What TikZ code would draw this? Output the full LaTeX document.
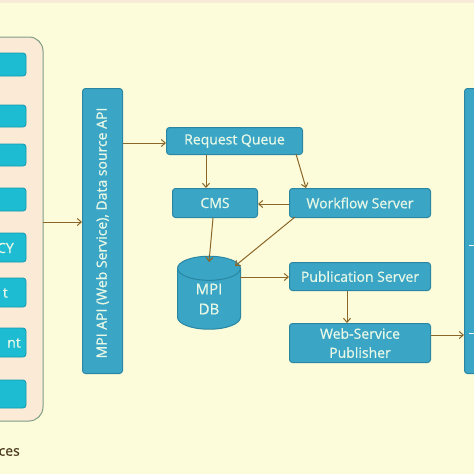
\documentclass[tikz,border=0pt]{standalone}
\usepackage{fontspec}
\setmainfont{Open Sans}
\newfontfamily\semib{Open Sans}[FakeBold=0.6]
\usetikzlibrary{shapes.geometric,arrows.meta}
\definecolor{bg}{HTML}{FDFCDA}
\definecolor{band}{HTML}{F7EAD8}
\definecolor{peach}{HTML}{FBEAD6}
\definecolor{contborder}{HTML}{7E9C86}
\definecolor{boxfill}{HTML}{3BA5C6}
\definecolor{boxline}{HTML}{2A86A2}
\definecolor{cyanfill}{HTML}{1DBCD2}
\definecolor{cyanline}{HTML}{1498AC}
\definecolor{arrowc}{HTML}{8A6628}
\definecolor{boxtext}{HTML}{E8F8E6}
\definecolor{labeltext}{HTML}{4A3A20}
\tikzset{
  txt/.style={font=\semib\fontsize{14}{15}\selectfont},
  proc/.style={draw=boxline, fill=boxfill, line width=1pt, rounded corners=3pt,
    text=boxtext, txt, inner sep=0pt, anchor=north west},
  src/.style={draw=cyanline, fill=cyanfill, line width=0.8pt, rounded corners=3pt},
  conn/.style={draw=arrowc, line width=1pt, -{Straight Barb[length=4pt,width=7pt]}},
}
\begin{document}
\begin{tikzpicture}[x=1pt,y=-1pt]
\useasboundingbox (0,0) rectangle (474,474);
\clip (0,0) rectangle (474,474);
\fill[bg] (0,0) rectangle (474,474);
\fill[band] (0,0) rectangle (474,3);
% left container
\draw[contborder, fill=peach, line width=1pt, rounded corners=14pt] (-30,37) rectangle (43,421);
\coordinate (contE) at (43,222);
% source boxes
\foreach \ya/\yb [count=\i] in {53/76,105/127,144/166,188/211,233/262,278/307,328/357,380/408}{
  \draw[src] (-20,\ya) rectangle (26,\yb);
}
\node[anchor=east, text=boxtext, txt, inner sep=0pt] (s5) at (14,248) {CY};
\node[anchor=east, text=boxtext, txt, inner sep=0pt] (s6) at (8,293) {t};
\node[anchor=east, text=boxtext, txt, inner sep=0pt] (s7) at (21,343) {nt};
\node[anchor=east, text=labeltext, txt, inner sep=0pt] (srclbl) at (20,452) {ces};
% MPI API box
\node[proc, minimum width=40pt, minimum height=285pt] (api) at (82,88) {};
\node[rotate=90, text=boxtext, txt, inner sep=0pt] (apitext) at ([xshift=0pt,yshift=-2pt]api.center) {MPI API (Web Service), Data source API};
% right box
\node[proc, minimum width=40pt, minimum height=285pt] (right) at (464,88) {};
\draw[white, line width=1pt] (469,245) -- (474,245);
\draw[white, line width=1pt] (469,333) -- (474,333);
% process boxes
\node[proc, minimum width=136pt, minimum height=27pt] (rq) at (166,127) {Request Queue};
\node[proc, minimum width=85pt, minimum height=29pt] (cms) at (172,188) {CMS};
\node[proc, minimum width=141pt, minimum height=29pt] (wf) at (289,188) {Workflow Server};
\node[proc, minimum width=141pt, minimum height=28pt] (pub) at (289,262) {Publication Server};
\node[proc, minimum width=141pt, minimum height=39pt, align=center, font=\semib\fontsize{14}{19}\selectfont] (wsp) at (289,323) {Web-Service\\Publisher};
% DB
\node[cylinder, shape border rotate=90, aspect=0.9, draw=boxline, fill=boxfill, line width=1pt,
  minimum width=63pt, minimum height=73pt, text=boxtext, align=center, inner sep=0pt,
  font=\semib\fontsize{15}{20}\selectfont] (db) at (209,299) {MPI\\DB};
% connectors
\draw[conn] (contE) -- (api.west |- contE);
\draw[conn] (api.east |- 0,143) -- (rq.west |- 0,143);
\draw[conn] (rq.south -| 206,0) -- (cms.north -| 206,0);
\draw[conn] (296,154) -- (306,188);
\draw[conn] (wf.west |- 0,204) -- (cms.east |- 0,204);
\draw[conn] (cms.south -| 213,0) -- (209,262);
\draw[conn] (295,217) -- (235,266);
\draw[conn] (240,277) -- (pub.west |- 0,277);
\draw[conn] (pub.south -| 347,0) -- (wsp.north -| 347,0);
\draw[conn] (wsp.east |- 0,335) -- (right.west |- 0,335);
\end{tikzpicture}
\end{document}
